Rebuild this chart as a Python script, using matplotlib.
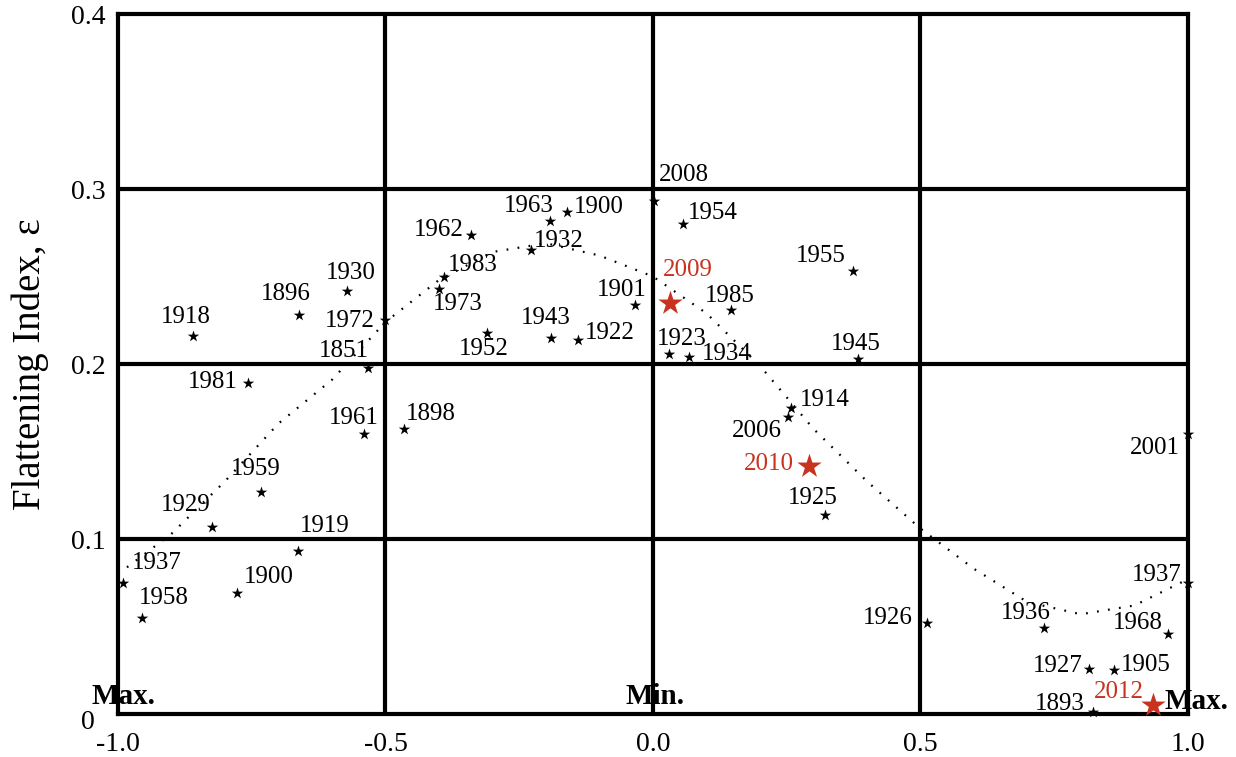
import matplotlib
matplotlib.use("Agg")
import matplotlib.pyplot as plt

plt.rcParams['font.family'] = ['Liberation Serif', 'DejaVu Serif']

# Dane: położenie (faza) i indeks spłaszczenia dla kolejnych lat
years = ['1937', '1958', '1900', '1919', '1929', '1959', '1918', '1896', '1930',
         '1972', '1851', '1981', '1961', '1898', '1962', '1963', '1900', '1932',
         '1983', '1973', '1952', '1943', '1922', '1901', '2008', '1954', '1985',
         '1955', '1923', '1934', '1945', '1914', '2006', '1925', '2001', '1937',
         '1926', '1936', '1968', '1927', '1905', '1893']
phase = [-0.99, -0.955, -0.778, -0.664, -0.824, -0.733, -0.860, -0.662, -0.572,
         -0.501, -0.533, -0.757, -0.540, -0.465, -0.340, -0.193, -0.161, -0.228,
         -0.391, -0.400, -0.310, -0.191, -0.140, -0.034, 0.002, 0.056, 0.146,
         0.374, 0.030, 0.067, 0.383, 0.258, 0.253, 0.322, 1.0, 1.0,
         0.512, 0.731, 0.963, 0.815, 0.862, 0.822]
flattening = [0.075, 0.055, 0.069, 0.093, 0.107, 0.127, 0.216, 0.228, 0.242,
              0.225, 0.198, 0.189, 0.160, 0.163, 0.274, 0.282, 0.287, 0.265,
              0.250, 0.243, 0.218, 0.215, 0.214, 0.234, 0.293, 0.280, 0.231,
              0.253, 0.206, 0.204, 0.203, 0.175, 0.170, 0.114, 0.160, 0.075,
              0.052, 0.049, 0.046, 0.026, 0.025, 0.001]

# Ostatnie lata (zaznaczone na czerwono)
recent_years = ['2009', '2010', '2012']
recent_phase = [0.032, 0.292, 0.935]
recent_flattening = [0.235, 0.142, 0.005]

# Krzywa dopasowania
fit_phase = [-1.0, -0.9, -0.8, -0.7, -0.6, -0.5, -0.4, -0.3, -0.2, -0.1, 0.0,
             0.1, 0.2, 0.3, 0.4, 0.5, 0.6, 0.7, 0.8, 0.9, 1.0]
fit_flattening = [0.080, 0.103, 0.133, 0.166, 0.191, 0.224, 0.248, 0.264, 0.269,
                  0.262, 0.250, 0.229, 0.199, 0.163, 0.133, 0.106, 0.083, 0.064,
                  0.057, 0.062, 0.077]

# Przesunięcia podpisów względem punktów (w pikselach)
label_offsets = [(33, 20), (22, 20), (32, 16), (27, 25), (-26, 22), (-5, 23),
                 (-7, 19), (-13, 21), (4, 18), (-35, -1), (-24, 17), (-35, 1),
                 (-10, 16), (27, 15), (-32, 5), (-21, 15), (32, 5), (28, 9),
                 (29, 12), (19, -15), (-3, -16), (-5, 20), (32, 7), (-13, 15),
                 (30, 26), (30, 11), (-1, 14), (-32, 15), (13, 15), (38, 3),
                 (-2, 15), (34, 8), (-31, -14), (-12, 17), (-33, -14), (-31, 8),
                 (-39, 5), (-18, 15), (-30, 11), (-31, 3), (32, 5), (-33, 8)]
recent_offsets = [(18, 33), (-40, 2), (-34, 13)]

RED = '#c8321e'
GRID_LW = 3.0

fig = plt.figure(figsize=(12.36, 7.57), dpi=100)
ax = fig.add_axes([0.0955, 0.0568, 0.8655, 0.9247])

ax.plot(fit_phase, fit_flattening, linestyle=(0, (0.8, 4.2)), color='black',
        linewidth=1.6, zorder=2)

ax.scatter(phase, flattening, marker='*', s=75, color='black', linewidths=0,
           zorder=4, clip_on=False)
ax.scatter(recent_phase, recent_flattening, marker='*', s=340, color=RED,
           linewidths=0, zorder=4, clip_on=False)

for year, x, y, off in zip(years, phase, flattening, label_offsets):
    ax.annotate(year, xy=(x, y), xytext=off, textcoords='offset pixels',
                ha='center', va='center', fontsize=18, color='black',
                annotation_clip=False)
for year, x, y, off in zip(recent_years, recent_phase, recent_flattening, recent_offsets):
    ax.annotate(year, xy=(x, y), xytext=off, textcoords='offset pixels',
                ha='center', va='center', fontsize=18, color=RED,
                annotation_clip=False)

# Oznaczenia faz cyklu
ax.text(-0.989, 0.010, 'Max.', ha='center', va='center', fontsize=21,
        fontweight='bold', zorder=5)
ax.text(0.004, 0.010, 'Min.', ha='center', va='center', fontsize=21,
        fontweight='bold', zorder=5)
ax.text(1.017, 0.007, 'Max.', ha='center', va='center', fontsize=21,
        fontweight='bold', zorder=5, clip_on=False)

ax.set_xlim(-1.0, 1.0)
ax.set_ylim(0, 0.4)
ax.set_xticks([-1.0, -0.5, 0.0, 0.5, 1.0])
ax.set_xticklabels(['-1.0', '-0.5', '0.0', '0.5', '1.0'])
ax.set_yticks([0.1, 0.2, 0.3, 0.4])
ax.set_yticklabels(['0.1', '0.2', '0.3', '0.4'])
ax.tick_params(length=0, labelsize=20)
ax.tick_params(axis='x', pad=13)
ax.tick_params(axis='y', pad=9)
ax.annotate('0', xy=(0, 0), xycoords='axes fraction', xytext=(-30, -8),
            textcoords='offset pixels', ha='center', va='center', fontsize=20)

for v in [-0.5, 0.0, 0.5]:
    ax.axvline(v, color='black', linewidth=GRID_LW, zorder=1)
for v in [0.1, 0.2, 0.3]:
    ax.axhline(v, color='black', linewidth=GRID_LW, zorder=1)
for spine in ax.spines.values():
    spine.set_linewidth(GRID_LW)

ax.set_ylabel('Flattening Index, ε', fontsize=28, labelpad=16)

fig.savefig('out.png', dpi=100)
